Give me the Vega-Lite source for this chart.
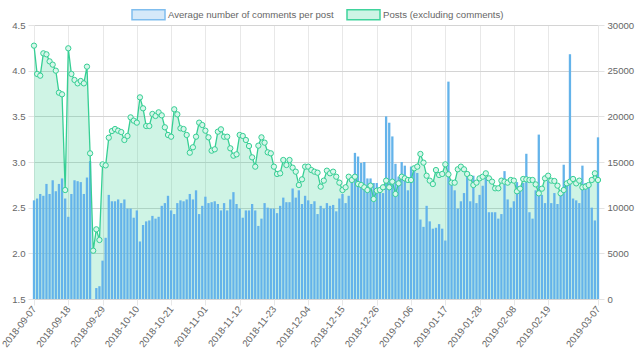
{
"$schema": "https://vega.github.io/schema/vega-lite/v6.json",
"width": 564, "height": 274,
"autosize": {"type": "none"},
"padding": {"left": 34, "top": 25, "right": 42, "bottom": 62},
"background": "white",
"config": {"font": "Liberation Sans", "view": {"stroke": null},
 "axis": {"labelColor": "#666", "labelFontSize": 9.6, "title": null, "domain": false, "tickSize": 6, "tickColor": "#e3e3e3"}},
"data": {"values": [
{"date":"2018-09-07","avg":2.58,"posts":27740},{"date":"2018-09-08","avg":2.60,"posts":24640},{"date":"2018-09-09","avg":2.65,"posts":24450},{"date":"2018-09-10","avg":2.63,"posts":26900},{"date":"2018-09-11","avg":2.76,"posts":26790},{"date":"2018-09-12","avg":2.65,"posts":26020},{"date":"2018-09-13","avg":2.80,"posts":25660},{"date":"2018-09-14","avg":2.68,"posts":25000},{"date":"2018-09-15","avg":2.76,"posts":22590},{"date":"2018-09-16","avg":2.82,"posts":22410},{"date":"2018-09-17","avg":2.60,"posts":11930},{"date":"2018-09-18","avg":2.40,"posts":27450},{"date":"2018-09-19","avg":2.65,"posts":24640},{"date":"2018-09-20","avg":2.80,"posts":23980},{"date":"2018-09-21","avg":2.79,"posts":23610},{"date":"2018-09-22","avg":2.78,"posts":23870},{"date":"2018-09-23","avg":2.65,"posts":23610},{"date":"2018-09-24","avg":2.83,"posts":25440},{"date":"2018-09-25","avg":3.01,"posts":15950},{"date":"2018-09-26","avg":1.50,"posts":5290},{"date":"2018-09-27","avg":1.62,"posts":7630},{"date":"2018-09-28","avg":1.64,"posts":6460},{"date":"2018-09-29","avg":1.92,"posts":14740},{"date":"2018-09-30","avg":2.17,"posts":14630},
{"date":"2018-10-01","avg":2.64,"posts":17660},{"date":"2018-10-02","avg":2.57,"posts":18390},{"date":"2018-10-03","avg":2.57,"posts":18610},{"date":"2018-10-04","avg":2.59,"posts":18430},{"date":"2018-10-05","avg":2.55,"posts":18280},{"date":"2018-10-06","avg":2.59,"posts":17410},{"date":"2018-10-07","avg":2.49,"posts":17850},{"date":"2018-10-08","avg":2.49,"posts":19890},{"date":"2018-10-09","avg":2.39,"posts":19530},{"date":"2018-10-10","avg":2.47,"posts":19310},{"date":"2018-10-11","avg":2.13,"posts":22080},{"date":"2018-10-12","avg":2.31,"posts":20880},{"date":"2018-10-13","avg":2.35,"posts":18940},{"date":"2018-10-14","avg":2.36,"posts":18940},{"date":"2018-10-15","avg":2.41,"posts":20260},{"date":"2018-10-16","avg":2.38,"posts":20040},{"date":"2018-10-17","avg":2.40,"posts":20440},{"date":"2018-10-18","avg":2.52,"posts":20110},{"date":"2018-10-19","avg":2.55,"posts":18800},{"date":"2018-10-20","avg":2.63,"posts":17960},{"date":"2018-10-21","avg":2.47,"posts":17770},{"date":"2018-10-22","avg":2.43,"posts":20770},{"date":"2018-10-23","avg":2.55,"posts":20220},{"date":"2018-10-24","avg":2.58,"posts":18690},{"date":"2018-10-25","avg":2.57,"posts":18610},{"date":"2018-10-26","avg":2.59,"posts":17960},{"date":"2018-10-27","avg":2.65,"posts":16020},{"date":"2018-10-28","avg":2.59,"posts":16610},{"date":"2018-10-29","avg":2.69,"posts":17770},{"date":"2018-10-30","avg":2.43,"posts":19310},{"date":"2018-10-31","avg":2.52,"posts":19050},
{"date":"2018-11-01","avg":2.62,"posts":18430},{"date":"2018-11-02","avg":2.55,"posts":17700},{"date":"2018-11-03","avg":2.56,"posts":16240},{"date":"2018-11-04","avg":2.57,"posts":16390},{"date":"2018-11-05","avg":2.54,"posts":18320},{"date":"2018-11-06","avg":2.47,"posts":18580},{"date":"2018-11-07","avg":2.55,"posts":17770},{"date":"2018-11-08","avg":2.47,"posts":17770},{"date":"2018-11-09","avg":2.59,"posts":16500},{"date":"2018-11-10","avg":2.67,"posts":15690},{"date":"2018-11-11","avg":2.54,"posts":15840},{"date":"2018-11-12","avg":2.49,"posts":17960},{"date":"2018-11-13","avg":2.39,"posts":17850},{"date":"2018-11-14","avg":2.47,"posts":17410},{"date":"2018-11-15","avg":2.47,"posts":16750},{"date":"2018-11-16","avg":2.54,"posts":15510},{"date":"2018-11-17","avg":2.47,"posts":14490},{"date":"2018-11-18","avg":2.30,"posts":16790},{"date":"2018-11-19","avg":2.38,"posts":17700},{"date":"2018-11-20","avg":2.55,"posts":17120},{"date":"2018-11-21","avg":2.50,"posts":16060},{"date":"2018-11-22","avg":2.49,"posts":15950},{"date":"2018-11-23","avg":2.49,"posts":14490},{"date":"2018-11-24","avg":2.44,"posts":13690},{"date":"2018-11-25","avg":2.52,"posts":13760},{"date":"2018-11-26","avg":2.61,"posts":15220},{"date":"2018-11-27","avg":2.56,"posts":14670},{"date":"2018-11-28","avg":2.56,"posts":15220},{"date":"2018-11-29","avg":2.71,"posts":14380},{"date":"2018-11-30","avg":2.61,"posts":13940},
{"date":"2018-12-01","avg":2.69,"posts":12480},{"date":"2018-12-02","avg":2.54,"posts":13100},{"date":"2018-12-03","avg":2.63,"posts":14490},{"date":"2018-12-04","avg":2.58,"posts":14490},{"date":"2018-12-05","avg":2.54,"posts":14120},{"date":"2018-12-06","avg":2.57,"posts":13940},{"date":"2018-12-07","avg":2.43,"posts":13830},{"date":"2018-12-08","avg":2.52,"posts":12300},{"date":"2018-12-09","avg":2.49,"posts":12960},{"date":"2018-12-10","avg":2.55,"posts":14050},{"date":"2018-12-11","avg":2.52,"posts":13760},{"date":"2018-12-12","avg":2.53,"posts":13940},{"date":"2018-12-13","avg":2.46,"posts":13390},{"date":"2018-12-14","avg":2.60,"posts":12740},{"date":"2018-12-15","avg":2.65,"posts":11930},{"date":"2018-12-16","avg":2.55,"posts":12230},{"date":"2018-12-17","avg":2.63,"posts":13390},{"date":"2018-12-18","avg":2.84,"posts":13030},{"date":"2018-12-19","avg":3.10,"posts":13390},{"date":"2018-12-20","avg":3.06,"posts":12590},{"date":"2018-12-21","avg":2.99,"posts":12480},{"date":"2018-12-22","avg":3.00,"posts":12230},{"date":"2018-12-23","avg":2.82,"posts":11930},{"date":"2018-12-24","avg":2.82,"posts":12410},{"date":"2018-12-25","avg":2.77,"posts":10950},{"date":"2018-12-26","avg":2.77,"posts":11860},{"date":"2018-12-27","avg":2.66,"posts":11930},{"date":"2018-12-28","avg":2.66,"posts":12230},{"date":"2018-12-29","avg":3.50,"posts":12960},{"date":"2018-12-30","avg":3.43,"posts":12230},{"date":"2018-12-31","avg":3.28,"posts":12850},
{"date":"2019-01-01","avg":2.98,"posts":11500},{"date":"2019-01-02","avg":2.84,"posts":12660},{"date":"2019-01-03","avg":3.00,"posts":13390},{"date":"2019-01-04","avg":2.96,"posts":13210},{"date":"2019-01-05","avg":2.69,"posts":13030},{"date":"2019-01-06","avg":2.95,"posts":13030},{"date":"2019-01-07","avg":2.92,"posts":14310},{"date":"2019-01-08","avg":2.88,"posts":14490},{"date":"2019-01-09","avg":2.37,"posts":15880},{"date":"2019-01-10","avg":2.29,"posts":14930},{"date":"2019-01-11","avg":2.52,"posts":13500},{"date":"2019-01-12","avg":2.35,"posts":12960},{"date":"2019-01-13","avg":2.27,"posts":12590},{"date":"2019-01-14","avg":2.28,"posts":14120},{"date":"2019-01-15","avg":2.32,"posts":13580},{"date":"2019-01-16","avg":2.27,"posts":13690},{"date":"2019-01-17","avg":2.14,"posts":14740},{"date":"2019-01-18","avg":3.88,"posts":13650},{"date":"2019-01-19","avg":2.75,"posts":12740},{"date":"2019-01-20","avg":2.69,"posts":12740},{"date":"2019-01-21","avg":2.49,"posts":14200},{"date":"2019-01-22","avg":2.57,"posts":14490},{"date":"2019-01-23","avg":2.66,"posts":14200},{"date":"2019-01-24","avg":2.84,"posts":13690},{"date":"2019-01-25","avg":2.57,"posts":13280},{"date":"2019-01-26","avg":2.85,"posts":12480},{"date":"2019-01-27","avg":2.55,"posts":12740},{"date":"2019-01-28","avg":2.64,"posts":13210},{"date":"2019-01-29","avg":2.74,"posts":13390},{"date":"2019-01-30","avg":2.83,"posts":13760},{"date":"2019-01-31","avg":2.45,"posts":13210},
{"date":"2019-02-01","avg":2.45,"posts":12850},{"date":"2019-02-02","avg":2.45,"posts":12120},{"date":"2019-02-03","avg":2.38,"posts":12120},{"date":"2019-02-04","avg":2.43,"posts":12960},{"date":"2019-02-05","avg":2.90,"posts":12850},{"date":"2019-02-06","avg":2.59,"posts":12740},{"date":"2019-02-07","avg":2.50,"posts":13030},{"date":"2019-02-08","avg":2.57,"posts":12960},{"date":"2019-02-09","avg":2.78,"posts":11790},{"date":"2019-02-10","avg":2.73,"posts":12080},{"date":"2019-02-11","avg":2.77,"posts":13140},{"date":"2019-02-12","avg":3.09,"posts":13100},{"date":"2019-02-13","avg":2.45,"posts":13030},{"date":"2019-02-14","avg":2.38,"posts":13030},{"date":"2019-02-15","avg":2.69,"posts":12550},{"date":"2019-02-16","avg":3.30,"posts":11570},{"date":"2019-02-17","avg":2.64,"posts":12080},{"date":"2019-02-18","avg":2.55,"posts":13210},{"date":"2019-02-19","avg":2.80,"posts":13500},{"date":"2019-02-20","avg":2.55,"posts":12960},{"date":"2019-02-21","avg":2.66,"posts":12920},{"date":"2019-02-22","avg":2.54,"posts":12410},{"date":"2019-02-23","avg":2.66,"posts":11570},{"date":"2019-02-24","avg":2.97,"posts":11930},{"date":"2019-02-25","avg":2.78,"posts":12660},{"date":"2019-02-26","avg":4.18,"posts":12850},{"date":"2019-02-27","avg":2.60,"posts":13140},{"date":"2019-02-28","avg":2.58,"posts":12660},
{"date":"2019-03-01","avg":2.55,"posts":12960},{"date":"2019-03-02","avg":2.96,"posts":12230},{"date":"2019-03-03","avg":2.77,"posts":12300},{"date":"2019-03-04","avg":2.77,"posts":12480},{"date":"2019-03-05","avg":2.50,"posts":13030},{"date":"2019-03-06","avg":2.36,"posts":13760},{"date":"2019-03-07","avg":3.27,"posts":13030}
]},
"encoding": {
 "x": {"field": "date", "type": "ordinal", "sort": null, "scale": {"type": "point", "padding": 0},
  "axis": {"values": ["2018-09-07","2018-09-18","2018-09-29","2018-10-10","2018-10-21","2018-11-01","2018-11-12","2018-11-23","2018-12-04","2018-12-15","2018-12-26","2019-01-06","2019-01-17","2019-01-28","2019-02-08","2019-02-19","2019-03-07"],
   "labelAngle": -52, "grid": true, "gridColor": "#e8e8e8", "tickColor": "#e8e8e8", "labelPadding": 2}}
},
"layer": [
 {"mark": {"type": "area", "color": "#36cf94", "fillOpacity": 0.24, "interpolate": "linear"},
  "encoding": {"y": {"field": "posts", "type": "quantitative", "scale": {"domain": [0, 30000], "nice": false}, "axis": null}}},
 {"mark": {"type": "bar", "size": 2.3, "color": "#64b3ea"},
  "encoding": {
   "y": {"field": "avg", "type": "quantitative", "scale": {"domain": [1.5, 4.5], "zero": false, "nice": false},
    "axis": {"orient": "left", "values": [1.5, 2, 2.5, 3, 3.5, 4, 4.5], "format": ".1f", "grid": true, "gridColor": "#d4d4d4", "labelPadding": 3}},
   "y2": {"datum": 1.5}
  }},
 {"mark": {"type": "line", "strokeWidth": 1.3, "color": "#36cf94", "point": {"filled": false, "fill": "#d7f6ea", "stroke": "#36cf94", "size": 28, "strokeWidth": 1}},
  "encoding": {
   "y": {"field": "posts", "type": "quantitative", "scale": {"domain": [0, 30000], "nice": false},
    "axis": {"orient": "right", "values": [0, 5000, 10000, 15000, 20000, 25000, 30000], "format": "d", "grid": false, "labelPadding": 3}}
  }},
 {"data": {"values": [{"series": "Average number of comments per post"}, {"series": "Posts (excluding comments)"}]},
  "mark": {"type": "point", "filled": true, "opacity": 0},
  "encoding": {
   "x": {"value": 0}, "y": {"value": 0},
   "fill": {"field": "series", "type": "nominal",
    "scale": {"domain": ["Average number of comments per post", "Posts (excluding comments)"], "range": ["#d5e9f9", "#cdf4e5"]},
    "legend": {"orient": "none", "direction": "horizontal", "legendX": 97, "legendY": -28, "title": null, "padding": 0,
     "labelFontSize": 9.6, "labelColor": "#666", "labelOffset": 2, "labelLimit": 400, "columnPadding": 10,
     "symbolType": "M-1,-0.3H1V0.3H-1Z", "symbolSize": 1089, "symbolStrokeWidth": 1.5, "symbolOpacity": 1}},
   "stroke": {"field": "series", "type": "nominal",
    "scale": {"domain": ["Average number of comments per post", "Posts (excluding comments)"], "range": ["#7fbdee", "#3fd39c"]},
    "legend": {"orient": "none", "direction": "horizontal", "legendX": 97, "legendY": -28, "title": null, "padding": 0,
     "labelFontSize": 9.6, "labelColor": "#666", "labelOffset": 2, "labelLimit": 400, "columnPadding": 10,
     "symbolType": "M-1,-0.3H1V0.3H-1Z", "symbolSize": 1089, "symbolStrokeWidth": 1.5, "symbolOpacity": 1}}
  }}
],
"resolve": {"scale": {"y": "independent"}, "axis": {"y": "independent"}}
}
